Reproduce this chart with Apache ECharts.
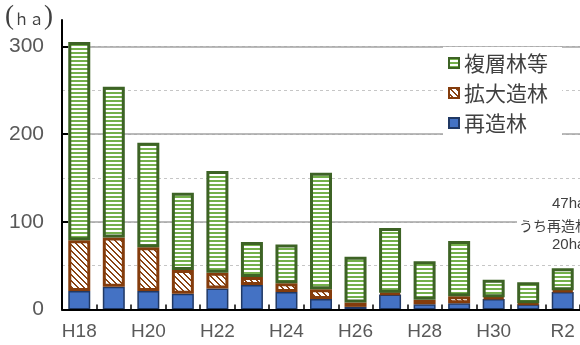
<!DOCTYPE html>
<html>
<head>
<meta charset="utf-8">
<script src="https://cdn.jsdelivr.net/npm/echarts@6/dist/echarts.min.js"></script>
<style>
  html, body { margin: 0; padding: 0; background: #fff; }
  #chart { width: 580px; height: 345px; }
</style>
</head>
<body>
<div id="chart"></div>
<script>
// Fiscal years (Heisei / Reiwa)
const categories = ['H18','H19','H20','H21','H22','H23','H24','H25','H26','H27','H28','H29','H30','R1','R2'];
// Area per year (ha)
const saizorin   = [21, 26, 21, 18, 24, 28, 20, 12, 3, 17, 6, 7, 12, 6, 20];      // 再造林
const kakudai    = [58, 56, 50, 27, 18, 9, 10, 11, 5, 2, 5, 8, 2, 1, 2];          // 拡大造林
const fukusou    = [226, 172, 119, 88, 116, 40, 44, 133, 52, 74, 44, 63, 20, 24, 25]; // 複層林等
const yTicks     = [0, 100, 200, 300];
const seriesNames = ['再造林', '拡大造林', '複層林等'];

const last = categories.length - 1;
const lastTotal = saizorin[last] + kakudai[last] + fukusou[last];

function makePattern(w, h, draw) {
  const c = document.createElement('canvas');
  c.width = w; c.height = h;
  const ctx = c.getContext('2d');
  ctx.fillStyle = '#ffffff';
  ctx.fillRect(0, 0, w, h);
  draw(ctx);
  return c;
}
// horizontal green stripes
const greenStripes = makePattern(4, 4, ctx => {
  ctx.fillStyle = '#74b04b';
  ctx.fillRect(0, 0, 4, 2);
});
// brown "\" diagonal hatch
const brownHatch = makePattern(6, 6, ctx => {
  ctx.fillStyle = '#8a4414';
  for (let y = 0; y < 6; y++) {
    for (let x = 0; x < 6; x++) {
      if (((x - y) % 6 + 6) % 6 < 2) ctx.fillRect(x, y, 1, 1);
    }
  }
});

const chart = echarts.init(document.getElementById('chart'), null, { renderer: 'canvas' });

const labelFont = 'Liberation Sans, Arial, sans-serif';
const cjkFont = '"Noto Sans CJK JP", sans-serif';

chart.setOption({
  animation: false,
  backgroundColor: '#ffffff',
  grid: { left: 62, top: 20, width: 520, bottom: 35.5, containLabel: false },
  legend: {
    data: ['複層林等', '拡大造林', '再造林'],
    orient: 'vertical',
    left: 443,
    top: 47,
    padding: [4, 14, 0, 5],
    backgroundColor: '#ffffff',
    itemWidth: 10,
    itemHeight: 10,
    itemGap: 6,
    icon: 'rect',
    textStyle: { fontSize: 21, color: '#404040', fontFamily: cjkFont, lineHeight: 24 }
  },
  xAxis: {
    type: 'category',
    data: categories,
    axisLine: { show: true, lineStyle: { color: '#000', width: 2 } },
    axisTick: { show: true, inside: true, length: 5, interval: 0, lineStyle: { color: '#000', width: 1.5 } },
    axisLabel: { interval: 1, fontSize: 19, color: '#595959', fontFamily: labelFont, margin: 13 },
    z: 3
  },
  yAxis: [
    {
      type: 'value',
      min: 0,
      max: 330,
      interval: 100,
      z: 2,
      axisLine: { show: true, lineStyle: { color: '#000', width: 2 } },
      axisTick: { show: true, inside: true, length: 6, customValues: yTicks, lineStyle: { color: '#000', width: 2 } },
      axisLabel: { customValues: yTicks, fontSize: 21, color: '#595959', fontFamily: labelFont, margin: 18 },
      splitLine: { show: true, lineStyle: { color: '#a3a3a3', width: 1.6 } }
    },
    {
      type: 'value',
      min: 0,
      max: 330,
      interval: 50,
      z: 1,
      axisLine: { show: false },
      axisTick: { show: false },
      axisLabel: { show: false },
      splitLine: { show: true, showMaxLine: false, lineStyle: { color: '#c6c6c6', width: 1, type: [3, 3] } }
    }
  ],
  series: [
    {
      name: seriesNames[0], type: 'bar', stack: 'area', barWidth: 22, data: saizorin,
      itemStyle: { color: '#4472c4', borderColor: '#203864', borderWidth: 1.5 }
    },
    {
      name: seriesNames[1], type: 'bar', stack: 'area', barWidth: 22, data: kakudai,
      itemStyle: { color: { image: brownHatch, repeat: 'repeat' }, borderColor: '#843c0c', borderWidth: 3 }
    },
    {
      name: seriesNames[2], type: 'bar', stack: 'area', barWidth: 22, data: fukusou,
      itemStyle: { color: { image: greenStripes, repeat: 'repeat' }, borderColor: '#3d6325', borderWidth: 3 }
    }
  ],
  graphic: [
    {
      type: 'text', left: 5, top: 3, z: 10,
      style: {
        text: '{p|(}{l|ｈａ}{p|)}',
        rich: {
          p: { fontFamily: 'Liberation Serif, serif', fontSize: 27, fill: '#404040' },
          l: { fontFamily: cjkFont, fontSize: 15, fill: '#404040', padding: [5, 0, 0, 0] }
        }
      }
    },
    {
      type: 'text', left: 552, top: 196, z: 10,
      style: { text: lastTotal + 'ha', font: '15px ' + labelFont, fill: '#404040' }
    },
    {
      type: 'text', left: 517, top: 219, z: 10,
      style: { text: 'うち' + seriesNames[0], font: '14px ' + cjkFont, fill: '#404040', backgroundColor: '#fff', padding: [0, 0, 0, 2] }
    },
    {
      type: 'text', left: 552, top: 237, z: 10,
      style: { text: saizorin[last] + 'ha', font: '15px ' + labelFont, fill: '#404040' }
    }
  ]
});
</script>
</body>
</html>
